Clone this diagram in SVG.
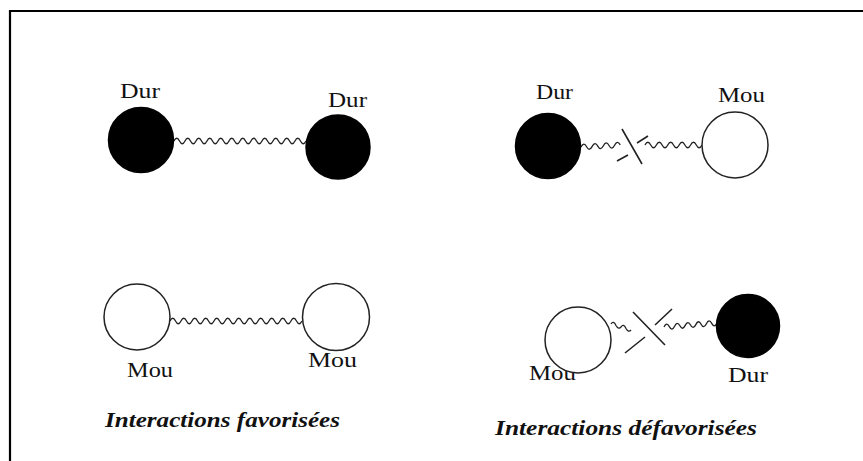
<svg xmlns="http://www.w3.org/2000/svg" width="863" height="461" viewBox="0 0 863 461">
<style>
.hard{fill:#000;stroke:#000;stroke-width:1.5}
.soft{fill:#fff;stroke:#222;stroke-width:1.5}
.lbl{font-family:"Liberation Serif","Times New Roman",serif;font-size:22px;fill:#111}
.ttl{font-family:"Liberation Serif","Times New Roman",serif;font-size:21px;font-weight:bold;font-style:italic;fill:#111}
.wave{fill:none;stroke:#222;stroke-width:1.3;stroke-linejoin:round}
.brk{fill:none;stroke:#222;stroke-width:1.6}
</style>
<rect width="863" height="461" fill="#fff"/>
<path d="M10,461 V11 H863" fill="none" stroke="#000" stroke-width="2.2"/>

<g id="connectors">
  <path class="wave" d="M174,141 q2.75,-5.5 5.5,0 t5.5,0 t5.5,0 t5.5,0 t5.5,0 t5.5,0 t5.5,0 t5.5,0 t5.5,0 t5.5,0 t5.5,0 t5.5,0 t5.5,0 t5.5,0 t5.5,0 t5.5,0 t5.5,0 t5.5,0 t5.5,0 t5.5,0 t5.5,0 t5.5,0 t5.5,0 t5.5,0"/>
  <path class="wave" d="M170,321 q2.75,-5.5 5.5,0 t5.5,0 t5.5,0 t5.5,0 t5.5,0 t5.5,0 t5.5,0 t5.5,0 t5.5,0 t5.5,0 t5.5,0 t5.5,0 t5.5,0 t5.5,0 t5.5,0 t5.5,0 t5.5,0 t5.5,0 t5.5,0 t5.5,0 t5.5,0 t5.5,0 t5.5,0 t5.5,0"/>
  <path class="wave" d="M581,147 q2.8,-5.5 5.6,-0.3 t5.6,-0.3 t5.6,-0.3 t5.6,-0.3 t5.6,-0.3 t5.6,-0.3 t5.6,-0.3"/>
  <path class="wave" d="M645,145 q2.85,-5.5 5.7,0 t5.7,0 t5.7,0 t5.7,0 t5.7,0 t5.7,0 t5.7,0 t5.7,0 t5.7,0 t5.7,0"/>
  <path class="brk" d="M622,129 L642,164 M617,161 L628,155 M637,143 L648,136"/>
  <path class="wave" d="M611,324 q2.5,-4 5,1.5 q2.5,4.5 5,1.5 q2.5,-4 5,1.5 q2.5,4.5 5,1.5"/>
  <path class="wave" d="M664,327 q2.65,-5.5 5.3,-0.4 t5.3,-0.4 t5.3,-0.4 t5.3,-0.4 t5.3,-0.4 t5.3,-0.4 t5.3,-0.4 t5.3,-0.4 t5.3,-0.4 t5.3,-0.4"/>
  <path class="brk" d="M633,312 L665,345 M625,353 L645,337 M655,325 L672,309"/>
</g>

<g id="tl-dur">
  <text class="lbl" x="120" y="98" textLength="40" lengthAdjust="spacingAndGlyphs">Dur</text>
  <circle class="hard" cx="141" cy="140" r="32.5"/>
</g>
<g id="tl-dur2">
  <text class="lbl" x="328" y="107" textLength="39" lengthAdjust="spacingAndGlyphs">Dur</text>
  <circle class="hard" cx="338" cy="147" r="32"/>
</g>
<g id="tr-dur">
  <text class="lbl" x="536" y="99" textLength="37" lengthAdjust="spacingAndGlyphs">Dur</text>
  <circle class="hard" cx="548" cy="146" r="32.5"/>
</g>
<g id="tr-mou">
  <text class="lbl" x="718" y="102" textLength="47" lengthAdjust="spacingAndGlyphs">Mou</text>
  <circle class="soft" cx="735" cy="145" r="33"/>
</g>
<g id="bl-mou">
  <circle class="soft" cx="137" cy="317" r="33"/>
  <text class="lbl" x="127" y="377" textLength="46" lengthAdjust="spacingAndGlyphs">Mou</text>
</g>
<g id="bl-mou2">
  <circle class="soft" cx="336" cy="317" r="33.5"/>
  <text class="lbl" x="308" y="367" textLength="49" lengthAdjust="spacingAndGlyphs">Mou</text>
</g>
<g id="br-mou">
  <text class="lbl" x="529" y="380" textLength="47" lengthAdjust="spacingAndGlyphs">Mou</text>
  <circle class="soft" cx="578" cy="340" r="33"/>
</g>
<g id="br-dur">
  <circle class="hard" cx="748" cy="326" r="31.5"/>
  <text class="lbl" x="728" y="382" textLength="40" lengthAdjust="spacingAndGlyphs">Dur</text>
</g>

<g id="titles">
  <text class="ttl" x="105" y="427" textLength="235" lengthAdjust="spacingAndGlyphs">Interactions favorisées</text>
  <text class="ttl" x="495" y="435" textLength="262" lengthAdjust="spacingAndGlyphs">Interactions défavorisées</text>
</g>
</svg>
